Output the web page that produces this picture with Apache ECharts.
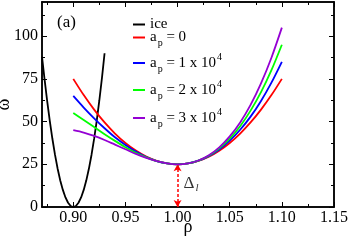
<!DOCTYPE html>
<html><head><meta charset="utf-8">
<script src="https://cdn.jsdelivr.net/npm/echarts@6/dist/echarts.min.js"></script>
<style>html,body{margin:0;padding:0;background:#fff}#c{width:349px;height:240px}</style>
</head><body><div id="c"></div>
<script>
// ---- data ----
const iceRho   = [0.87,0.8725,0.875,0.8775,0.88,0.8825,0.885,0.8875,0.89,0.8925,0.895,0.8975,0.90,0.9025,0.905,0.9075,0.91,0.9125,0.915,0.9175,0.92,0.9225,0.925,0.9275,0.93];
const iceOmega = [88,74.5,61.8,50.2,39.8,30.5,22.4,15.5,10,5.6,2.5,0.6,0,0.6,2.5,5.6,10,15.6,22.5,30.6,40,50.6,62.5,75.6,90];
const rho      = [0.90,0.91,0.92,0.93,0.94,0.95,0.96,0.97,0.98,0.99,1.00,1.01,1.02,1.03,1.04,1.05,1.06,1.07,1.08,1.09,1.10];
const ap0      = [75,65.5,57,49.5,43,37.5,33,29.5,27,25.5,25,25.5,27,29.5,33,37.5,43,49.5,57,65.5,75];
const ap1      = [65,58.2,51.9,46.1,40.8,36.3,32.4,29.2,26.9,25.5,25,25.5,27.1,29.8,33.6,38.8,45.2,52.9,62.1,72.8,85];
const ap2      = [55,50.9,46.8,42.6,38.7,35,31.7,29,26.8,25.5,25,25.5,27.2,30,34.3,40,47.3,56.4,67.2,80.1,95];
const ap3      = [45,43.6,41.6,39.2,36.5,33.8,31.1,28.7,26.8,25.5,25,25.5,27.2,30.3,34.9,41.3,49.5,59.8,72.4,87.4,105];
const seriesNames = ['ice','a_p = 0','a_p = 1 x 10^4','a_p = 2 x 10^4','a_p = 3 x 10^4'];
const xMajor = [0.90,0.95,1.00,1.05,1.10,1.15];
const xMinor = [0.875,0.925,0.975,1.025,1.075,1.125];
const yMajor = [0,25,50,75,100];
const yMinor = [12.5,37.5,62.5,87.5,112.5];
const gapBar = [1.00, 0, 25];      // rho, from, to
const gapLabelAt = [1.00, 14];

const FONT = 'Liberation Serif';
const colors = ['#000000','#ff0000','#0000ff','#00ff00','#9400d3'];
const zip = (a,b)=>a.map((v,i)=>[v,b[i]]);

function xAx(pos, ticks, len, labels){
  return {type:'value', min:0.87, max:1.15, position:pos, gridIndex:0, offset:0,
    axisLine:{show:true,onZero:false,lineStyle:{color:'#000',width:1.5}},
    axisTick:{show:true,inside:true,length:len,customValues:ticks,lineStyle:{color:'#000',width:1}},
    axisLabel:{show:!!labels,customValues:labels||[],margin:3,color:'#000',fontFamily:FONT,fontSize:16,formatter:v=>v.toFixed(2)},
    splitLine:{show:false}};
}
function yAx(pos, ticks, len, labels){
  return {type:'value', min:0, max:120, position:pos, gridIndex:0, offset:0,
    axisLine:{show:true,onZero:false,lineStyle:{color:'#000',width:1.5}},
    axisTick:{show:true,inside:true,length:len,customValues:ticks,lineStyle:{color:'#000',width:1}},
    axisLabel:{show:!!labels,customValues:labels||[],margin:4,color:'#000',fontFamily:FONT,fontSize:16},
    splitLine:{show:false}};
}
const xAxes = [xAx('bottom',xMajor,5,xMajor), xAx('bottom',xMinor,3), xAx('top',xMajor,5), xAx('top',xMinor,3)];
Object.assign(xAxes[0],{name:'ρ',nameLocation:'middle',nameGap:11,nameMoveOverlap:false,nameTextStyle:{fontFamily:FONT,fontSize:18,color:'#000'}});
const yAxes = [yAx('left',yMajor,5,yMajor), yAx('left',yMinor,3), yAx('right',yMajor,5), yAx('right',yMinor,3)];
Object.assign(yAxes[0],{name:'ω',nameLocation:'middle',nameGap:29,nameMoveOverlap:false,nameTextStyle:{fontFamily:FONT,fontSize:18,color:'#000'}});

const rich = {
  m:{fontFamily:FONT,fontSize:15,color:'#000'},
  sub:{fontFamily:FONT,fontSize:10,color:'#000',padding:[12,0,0,1]},
  sup:{fontFamily:FONT,fontSize:10,color:'#000',padding:[0,0,12,1]}
};
function legendText(n){
  if(n==='ice') return '{m|ice}';
  const m = n.match(/a_p = (\S+)(?: x 10\^(\d))?/);
  let s = '{m|a}{sub|p}{m| = '+m[1]+'}';
  if(m[2]) s = '{m|a}{sub|p}{m| = '+m[1]+' x 10}{sup|'+m[2]+'}';
  return s;
}
const legendTops = [17,30,52,79,107];
const legends = seriesNames.map((n,i)=>({
  data:[n], left:133, top:legendTops[i], orient:'vertical', padding:0,
  icon:'rect', itemWidth:12, itemHeight:2, selectedMode:false,
  formatter:legendText, textStyle:{fontFamily:FONT,fontSize:15,color:'#000',rich:rich}
}));

const lineSeries = [zip(iceRho,iceOmega), zip(rho,ap0), zip(rho,ap1), zip(rho,ap2), zip(rho,ap3)].map((d,i)=>({
  name:seriesNames[i], type:'line', data:d, xAxisIndex:0, yAxisIndex:0,
  showSymbol:false, symbol:'none', smooth:i>0?0.3:false, color:colors[i],
  lineStyle:{color:colors[i],width:1.8}, silent:true, animation:false, z:2+i
}));

const gapSeries = {
  name:'gap', type:'scatter', xAxisIndex:0, yAxisIndex:0, symbolSize:0,
  data:[gapLabelAt], silent:true, animation:false,
  label:{show:true,position:'right',distance:6,formatter:'{d|Δ}{l|l}',
    rich:{d:{fontFamily:FONT,fontSize:17,color:'#000'},l:{fontFamily:FONT,fontStyle:'italic',fontSize:11,color:'#000',padding:[10,0,0,1]}}},
  markLine:{silent:true,animation:false,symbol:['arrow','arrow'],symbolSize:[6,7],
    label:{show:false},
    lineStyle:{color:'#ff0000',type:[3,2],width:1.5},
    data:[[{coord:[gapBar[0],gapBar[1]]},{coord:[gapBar[0],gapBar[2]]}]]}
};

const chart = echarts.init(document.getElementById('c'),null,{renderer:'canvas'});
chart.setOption({
  animation:false, backgroundColor:'#fff',
  title:{text:'(a)',left:57,top:14,padding:0,textStyle:{fontFamily:FONT,fontSize:17,fontWeight:'normal',color:'#000'}},
  grid:{left:42,right:15,top:2,bottom:33,containLabel:false,outerBoundsMode:'none'},
  legend:legends,
  xAxis:xAxes, yAxis:yAxes,
  series:[...lineSeries, gapSeries]
});
</script></body></html>
